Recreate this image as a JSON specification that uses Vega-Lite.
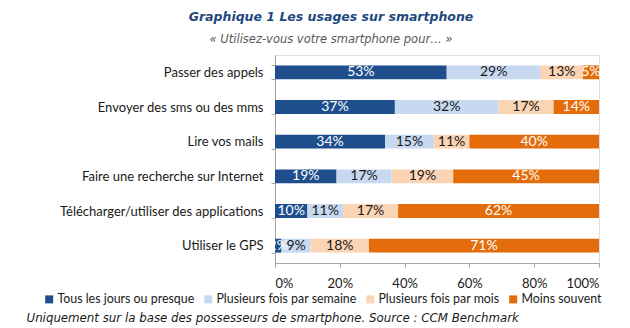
{
  "$schema": "https://vega.github.io/schema/vega-lite/v6.json",
  "width": 324,
  "height": 208,
  "autosize": {"type": "none"},
  "padding": {"left": 275, "top": 55, "right": 31, "bottom": 65},
  "background": "white",
  "title": {
    "text": "Graphique 1 Les usages sur smartphone",
    "subtitle": "« Utilisez-vous votre smartphone pour… »",
    "anchor": "middle",
    "frame": "group",
    "dx": -106,
    "offset": 4,
    "font": "DejaVu Sans",
    "fontSize": 12.5,
    "fontWeight": "bold",
    "fontStyle": "italic",
    "color": "#1F497D",
    "subtitleFont": "DejaVu Sans",
    "subtitleFontSize": 11.5,
    "subtitleFontStyle": "italic",
    "subtitleColor": "#595959",
    "subtitlePadding": 10
  },
  "data": {
    "values": [
      {"cat": "Passer des appels", "freq": "Tous les jours ou presque", "value": 0.53},
      {"cat": "Passer des appels", "freq": "Plusieurs fois par semaine", "value": 0.29},
      {"cat": "Passer des appels", "freq": "Plusieurs fois par mois", "value": 0.13},
      {"cat": "Passer des appels", "freq": "Moins souvent", "value": 0.05},
      {"cat": "Envoyer des sms ou des mms", "freq": "Tous les jours ou presque", "value": 0.37},
      {"cat": "Envoyer des sms ou des mms", "freq": "Plusieurs fois par semaine", "value": 0.32},
      {"cat": "Envoyer des sms ou des mms", "freq": "Plusieurs fois par mois", "value": 0.17},
      {"cat": "Envoyer des sms ou des mms", "freq": "Moins souvent", "value": 0.14},
      {"cat": "Lire vos mails", "freq": "Tous les jours ou presque", "value": 0.34},
      {"cat": "Lire vos mails", "freq": "Plusieurs fois par semaine", "value": 0.15},
      {"cat": "Lire vos mails", "freq": "Plusieurs fois par mois", "value": 0.11},
      {"cat": "Lire vos mails", "freq": "Moins souvent", "value": 0.40},
      {"cat": "Faire une recherche sur Internet", "freq": "Tous les jours ou presque", "value": 0.19},
      {"cat": "Faire une recherche sur Internet", "freq": "Plusieurs fois par semaine", "value": 0.17},
      {"cat": "Faire une recherche sur Internet", "freq": "Plusieurs fois par mois", "value": 0.19},
      {"cat": "Faire une recherche sur Internet", "freq": "Moins souvent", "value": 0.45},
      {"cat": "Télécharger/utiliser des applications", "freq": "Tous les jours ou presque", "value": 0.10},
      {"cat": "Télécharger/utiliser des applications", "freq": "Plusieurs fois par semaine", "value": 0.11},
      {"cat": "Télécharger/utiliser des applications", "freq": "Plusieurs fois par mois", "value": 0.17},
      {"cat": "Télécharger/utiliser des applications", "freq": "Moins souvent", "value": 0.62},
      {"cat": "Utiliser le GPS", "freq": "Tous les jours ou presque", "value": 0.02},
      {"cat": "Utiliser le GPS", "freq": "Plusieurs fois par semaine", "value": 0.09},
      {"cat": "Utiliser le GPS", "freq": "Plusieurs fois par mois", "value": 0.18},
      {"cat": "Utiliser le GPS", "freq": "Moins souvent", "value": 0.71}
    ]
  },
  "transform": [
    {"stack": "value", "groupby": ["cat"], "sort": [{"field": "freq", "order": "descending"}], "as": ["x0", "x1"]},
    {"calculate": "(datum.x0 + datum.x1) / 2", "as": "mid"}
  ],
  "encoding": {
    "y": {
      "field": "cat",
      "type": "nominal",
      "sort": null,
      "title": null,
      "scale": {"paddingInner": 0.6, "paddingOuter": 0.3},
      "axis": {
        "tickBand": "extent",
        "domainColor": "#A6A6A6",
        "tickColor": "#A6A6A6",
        "tickSize": 4,
        "labelFont": "Lato",
        "labelFontSize": 13,
        "labelColor": "#1a1a1a",
        "labelPadding": 8,
        "labelLimit": 300
      }
    }
  },
  "layer": [
    {
      "mark": {"type": "bar"},
      "encoding": {
        "x": {
          "field": "x0",
          "type": "quantitative",
          "scale": {"domain": [0, 1], "nice": false},
          "axis": {
            "format": ".0%",
            "values": [0, 0.2, 0.4, 0.6, 0.8, 1],
            "grid": false,
            "domainColor": "#A6A6A6",
            "tickColor": "#A6A6A6",
            "tickSize": 4,
            "labelFont": "Lato",
            "labelFontSize": 13,
            "labelColor": "#1a1a1a",
            "labelPadding": 10,
            "title": "Uniquement sur la base des possesseurs de smartphone. Source : CCM Benchmark",
            "titleFont": "DejaVu Sans",
            "titleFontSize": 11.8,
            "titleFontStyle": "italic",
            "titleFontWeight": "normal",
            "titleColor": "#1a1a1a",
            "titleAlign": "left",
            "titleAnchor": "start",
            "titleBaseline": "alphabetic",
            "titleX": -249,
            "titleY": 58
          }
        },
        "x2": {"field": "x1"},
        "color": {
          "field": "freq",
          "type": "nominal",
          "scale": {
            "domain": ["Tous les jours ou presque", "Plusieurs fois par semaine", "Plusieurs fois par mois", "Moins souvent"],
            "range": ["#1F4E8C", "#C6D9F1", "#FBD4B4", "#E46C0A"]
          },
          "legend": {
            "title": null,
            "orient": "none",
            "direction": "horizontal",
            "columns": 4,
            "legendX": -232,
            "legendY": 238,
            "symbolType": "square",
            "symbolSize": 64,
            "symbolStrokeWidth": 0,
            "labelFont": "Lato",
            "labelFontSize": 12.4,
            "labelColor": "#1a1a1a",
            "labelOffset": 2,
            "columnPadding": 7,
            "labelLimit": 300
          }
        }
      }
    },
    {
      "mark": {"type": "text", "font": "Lato", "fontSize": 14, "align": "center", "baseline": "middle"},
      "encoding": {
        "x": {"field": "mid", "type": "quantitative"},
        "text": {"field": "value", "type": "quantitative", "format": ".0%"},
        "color": {
          "condition": {"test": "datum.freq === 'Tous les jours ou presque' || datum.freq === 'Moins souvent'", "value": "white"},
          "value": "#1a1a1a"
        }
      }
    }
  ]
}
